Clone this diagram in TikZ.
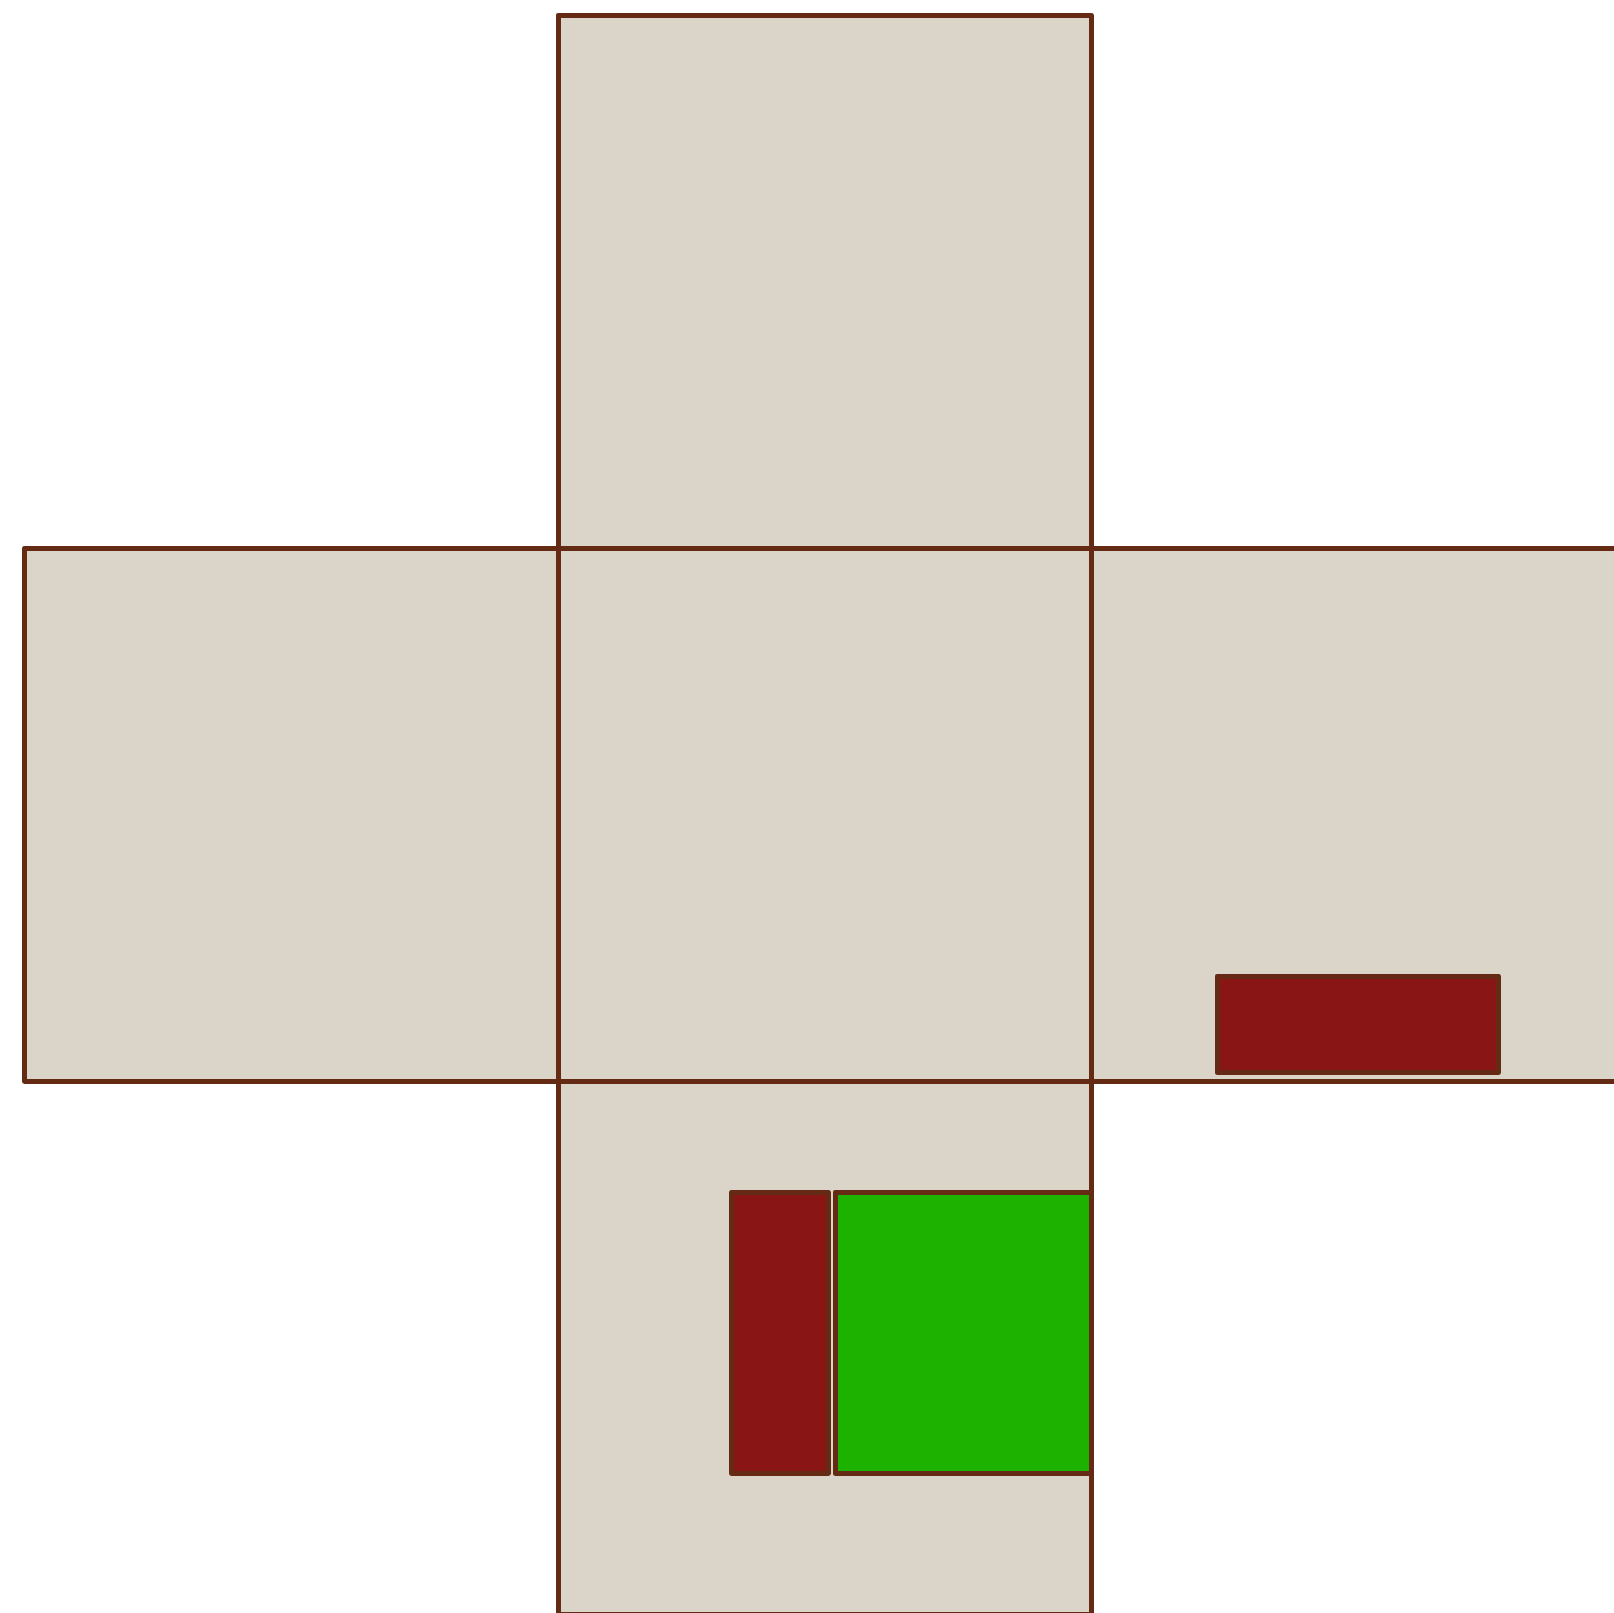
\documentclass[tikz,border=0pt]{standalone}
\definecolor{facefill}{RGB}{218,213,200}
\definecolor{edgebrown}{RGB}{101,42,20}
\definecolor{stickred}{RGB}{138,21,21}
\definecolor{stickgreen}{RGB}{29,177,0}
\tikzset{
  face/.style={fill=facefill,draw=edgebrown,line width=5pt,line join=round},
  redpatch/.style={fill=stickred,draw=edgebrown,line width=5pt,line join=round},
  greenpatch/.style={fill=stickgreen,draw=edgebrown,line width=5pt,line join=round}
}
\begin{document}
\begin{tikzpicture}[x=1pt,y=-1pt]
\useasboundingbox (0,0) rectangle (1614,1612);
\clip (0,0) rectangle (1614,1612);
\fill[white] (0,0) rectangle (1614,1612);
% faces of the net
\draw[face] (558,15) rectangle (1091,548);
\draw[face] (24.5,548) rectangle (558,1081);
\draw[face] (558,548) rectangle (1091,1081);
\draw[face] (1091,548) rectangle (1624,1081);
\draw[face] (558,1081) rectangle (1091,1614);
% stickers
\draw[redpatch] (1217,976) rectangle (1498.5,1072.5);
\draw[redpatch] (731.5,1192) rectangle (828,1473.3);
\draw[greenpatch] (835,1192) rectangle (1091,1473.3);
\end{tikzpicture}
\end{document}
